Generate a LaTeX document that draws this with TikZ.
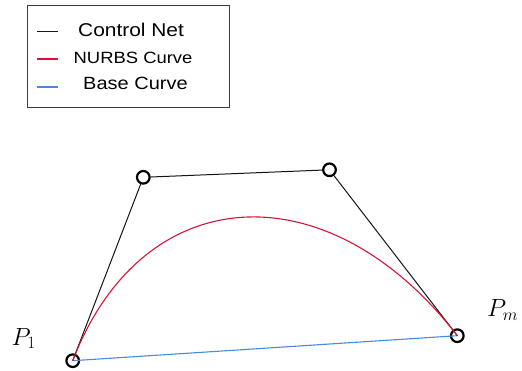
\documentclass[tikz,border=0pt]{standalone}
\usepackage{fontspec}
\newfontfamily\legfont[FakeStretch=1.13]{Liberation Sans}
\definecolor{netblack}{RGB}{20,20,20}
\definecolor{nurbsred}{RGB}{215,20,55}
\definecolor{baseblue}{RGB}{70,140,220}
\definecolor{boxgray}{RGB}{60,60,60}
\begin{document}
\begin{tikzpicture}[x=1pt,y=-1pt,
  cpt/.style={circle,draw=black,line width=2.2pt,minimum size=12.6pt,inner sep=0pt},
  netline/.style={draw=netblack,line width=1pt},
  nurbsline/.style={draw=nurbsred,line width=1.1pt},
  baseline/.style={draw=baseblue,line width=1.1pt},
  legtext/.style={anchor=base west,inner sep=0pt,font=\legfont},
  plabel/.style={anchor=base west,inner sep=0pt,font=\fontsize{24}{28}\selectfont}
]
\useasboundingbox (0,0) rectangle (522,371);
% legend
\node[draw=boxgray,line width=1.2pt,minimum width=202pt,minimum height=102pt,anchor=north west,inner sep=0pt] (legend) at (27,5) {};
\coordinate (l1a) at (37,31.5); \coordinate (l1b) at (58,31.5);
\coordinate (l2a) at (37,59); \coordinate (l2b) at (58,59);
\coordinate (l3a) at (37,87); \coordinate (l3b) at (58,87);
\draw[netline] (l1a) -- (l1b);
\draw[nurbsline] (l2a) -- (l2b);
\draw[baseline] (l3a) -- (l3b);
\node[legtext,font=\legfont\fontsize{18.5}{22}\selectfont] (t1) at (78,36.7) {Control Net};
\node[legtext,font=\legfont\fontsize{16.3}{20}\selectfont] (t2) at (73.5,63.3) {NURBS Curve};
\node[legtext,font=\legfont\fontsize{17.7}{21}\selectfont] (t3) at (83,90) {Base Curve};
% control points
\node[cpt] (p1) at (72.7,360.7) {};
\node[cpt] (p2) at (143.3,177.3) {};
\node[cpt] (p3) at (329.5,169.8) {};
\node[cpt] (pm) at (457.3,335.7) {};
% curves
\draw[baseline] (p1.center) -- (pm.center);
\draw[netline] (p1.center) -- (p2) -- (p3) -- (pm.center);
\draw[nurbsline] (p1.center) .. controls (p2.center) and (p3.center) .. (pm.center);
% labels
\node[plabel] (lp1) at (11.5,345) {$P_1$};
\node[plabel] (lpm) at (487,316.7) {$P_m$};
\end{tikzpicture}
\end{document}
